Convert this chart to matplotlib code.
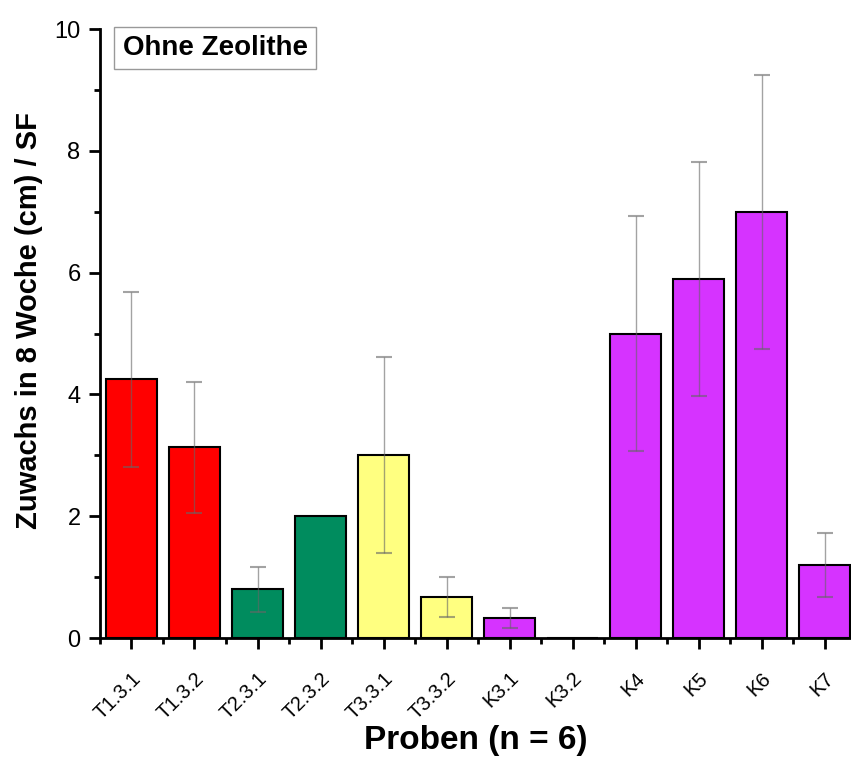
import numpy as np
import matplotlib.pyplot as plt
from matplotlib.ticker import MultipleLocator

plt.rcParams['font.family'] = ['Liberation Sans', 'DejaVu Sans']

proben = ['T1.3.1', 'T1.3.2', 'T2.3.1', 'T2.3.2', 'T3.3.1', 'T3.3.2',
          'K3.1', 'K3.2', 'K4', 'K5', 'K6', 'K7']
zuwachs = [4.25, 3.13, 0.8, 2.0, 3.0, 0.67, 0.33, 0.0, 5.0, 5.9, 7.0, 1.2]
fehler = [1.44, 1.08, 0.37, 0.0, 1.61, 0.33, 0.17, 0.0, 1.93, 1.92, 2.25, 0.52]
farben = ['#FF0000', '#FF0000', '#008C5E', '#008C5E', '#FFFF80', '#FFFF80',
          '#D633FF', '#D633FF', '#D633FF', '#D633FF', '#D633FF', '#D633FF']

fig = plt.figure(figsize=(8.51, 7.6), dpi=100)
ax = fig.add_axes([0.1175, 0.1605, 0.8825, 0.8013])

x = np.arange(len(proben))
ax.bar(x, zuwachs, width=0.8, color=farben, edgecolor='black', linewidth=1.5, zorder=2)

# only bars that actually have an error
mit_fehler = [i for i in range(len(proben)) if fehler[i] > 0]
ax.errorbar([x[i] for i in mit_fehler], [zuwachs[i] for i in mit_fehler],
            yerr=[fehler[i] for i in mit_fehler], fmt='none', ecolor='#666666',
            alpha=0.6, elinewidth=1, capsize=6, capthick=1.5, zorder=3)

ax.set_xlim(-0.5, 11.42)
ax.set_ylim(0, 10)
ax.set_xticks(x)
ax.set_xticklabels(proben, rotation=45, ha='right', va='top',
                   rotation_mode='anchor', fontsize=14.5)
ax.xaxis.set_minor_locator(MultipleLocator(1, offset=0.5))
ax.yaxis.set_major_locator(MultipleLocator(2))
ax.yaxis.set_minor_locator(MultipleLocator(1))
ax.tick_params(axis='both', which='major', direction='out', length=8, width=2, labelsize=17)
ax.tick_params(axis='x', which='major', labelsize=14.5, pad=14)
ax.tick_params(axis='y', which='major', pad=6)
ax.tick_params(axis='both', which='minor', direction='out', length=4, width=2)

for s in ['top', 'right']:
    ax.spines[s].set_visible(False)
for s in ['left', 'bottom']:
    ax.spines[s].set_linewidth(2)

ax.set_xlabel('Proben (n = 6)', fontsize=24, fontweight='bold', va='center')
ax.xaxis.set_label_coords(0.5, -0.168)
ax.set_ylabel('Zuwachs in 8 Woche (cm) / SF', fontsize=21, fontweight='bold',
              va='center', ha='center')
ax.yaxis.set_label_coords(-0.095, 0.522)

ax.text(0.03, 0.99, 'Ohne Zeolithe', transform=ax.transAxes, fontsize=20,
        fontweight='bold', va='top', ha='left',
        bbox=dict(facecolor='white', edgecolor='#999999', boxstyle='square,pad=0.3'))

fig.savefig('out.png', dpi=100)
